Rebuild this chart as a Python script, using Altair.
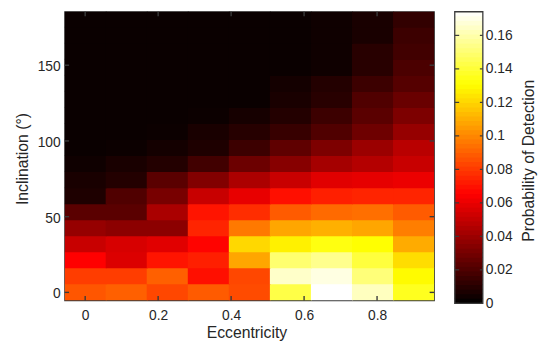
import altair as alt
import pandas as pd

# ---------------- data ----------------
eccentricity = [0.0, 0.1125, 0.225, 0.3375, 0.45, 0.5625, 0.675, 0.7875, 0.9]
inclination = [0.0, 10.59, 21.18, 31.76, 42.35, 52.94, 63.53, 74.12, 84.71,
               95.29, 105.88, 116.47, 127.06, 137.65, 148.24, 158.82, 169.41, 180.0]

prob_rows = [
    [0.0872, 0.0898, 0.0834, 0.0885, 0.0846, 0.1427, 0.1741, 0.1632, 0.1358],
    [0.0808, 0.0808, 0.0898, 0.0692, 0.0834, 0.1649, 0.1692, 0.1512, 0.1295],
    [0.0654, 0.0564, 0.0705, 0.0731, 0.1077, 0.1495, 0.1546, 0.1410, 0.1218],
    [0.0513, 0.0551, 0.0577, 0.0660, 0.1205, 0.1270, 0.1333, 0.1307, 0.1090],
    [0.0385, 0.0359, 0.0359, 0.0744, 0.0962, 0.1077, 0.1103, 0.1077, 0.0975],
    [0.0231, 0.0231, 0.0436, 0.0705, 0.0769, 0.0885, 0.0923, 0.0936, 0.0885],
    [0.0077, 0.0205, 0.0308, 0.0513, 0.0595, 0.0692, 0.0731, 0.0744, 0.0744],
    [0.0064, 0.0090, 0.0231, 0.0333, 0.0441, 0.0513, 0.0577, 0.0590, 0.0603],
    [0.0038, 0.0064, 0.0090, 0.0167, 0.0277, 0.0346, 0.0423, 0.0462, 0.0513],
    [0.0026, 0.0031, 0.0051, 0.0077, 0.0154, 0.0244, 0.0321, 0.0398, 0.0474],
    [0.0026, 0.0026, 0.0030, 0.0064, 0.0097, 0.0141, 0.0205, 0.0282, 0.0385],
    [0.0026, 0.0026, 0.0026, 0.0031, 0.0056, 0.0090, 0.0154, 0.0231, 0.0321],
    [0.0026, 0.0026, 0.0026, 0.0026, 0.0026, 0.0064, 0.0103, 0.0205, 0.0269],
    [0.0026, 0.0026, 0.0026, 0.0026, 0.0026, 0.0051, 0.0090, 0.0154, 0.0218],
    [0.0026, 0.0026, 0.0026, 0.0026, 0.0026, 0.0026, 0.0038, 0.0103, 0.0192],
    [0.0026, 0.0026, 0.0026, 0.0026, 0.0026, 0.0026, 0.0038, 0.0103, 0.0167],
    [0.0026, 0.0026, 0.0026, 0.0026, 0.0026, 0.0026, 0.0038, 0.0064, 0.0154],
    [0.0026, 0.0026, 0.0026, 0.0026, 0.0026, 0.0026, 0.0038, 0.0064, 0.0128],
]

x_ticks = [0, 0.2, 0.4, 0.6, 0.8]
y_ticks = [0, 50, 100, 150]
cbar_ticks = [0, 0.02, 0.04, 0.06, 0.08, 0.1, 0.12, 0.14, 0.16]
P_MAX = 0.1741
CBAR_STEPS = 64

cells = pd.DataFrame(
    [{"e": e, "inc": inc, "p": prob_rows[i][j]}
     for i, inc in enumerate(inclination)
     for j, e in enumerate(eccentricity)]
)
cbar_df = pd.DataFrame({
    "lo": [P_MAX * k / CBAR_STEPS for k in range(CBAR_STEPS)],
    "hi": [P_MAX * (k + 1) / CBAR_STEPS for k in range(CBAR_STEPS)],
    "mid": [P_MAX * (k + 0.5) / CBAR_STEPS for k in range(CBAR_STEPS)],
})
xt_df = pd.DataFrame({"t": x_ticks})
yt_df = pd.DataFrame({"t": y_ticks})
ct_df = pd.DataFrame({"t": cbar_ticks})

# ---------------- styling ----------------
W, H = 375, 293
FONT = "Liberation Sans"
TXT = "#262626"
AX = "#3a3a3a"
TICK = 4.5
CB_X0, CB_X1, CB_H = 396, 424.5, 296

x_scale = alt.Scale(domain=[-0.05625, 0.95625], nice=False, zero=False)
y_scale = alt.Scale(domain=[-5.2941, 185.2941], nice=False, zero=False)
cb_scale = alt.Scale(domain=[0, P_MAX], range=[CB_H, 0], nice=False, zero=False)
color_scale = alt.Scale(
    domain=[0, P_MAX * 0.375, P_MAX * 0.75, P_MAX],
    range=["#000000", "#ff0000", "#ffff00", "#ffffff"],
    interpolate="rgb",
)

x_axis = alt.Axis(values=x_ticks, format=".1~f", ticks=False, domain=False,
                  grid=False, labelPadding=8.5, titleFontSize=16,
                  titleX=184.5, titleY=25)
y_axis = alt.Axis(values=y_ticks, ticks=False, domain=False, grid=False,
                  labelPadding=4.5, labelOffset=1.5, titleFontSize=16,
                  titleX=-35, titleY=149)
cb_axis = alt.Axis(orient="right", offset=CB_X1 - W, values=cbar_ticks,
                   format=".2~f", ticks=False, domain=False, grid=False,
                   labelPadding=2.5, titleAngle=270, titleBaseline="top",
                   titleX=38, titleY=150.7, titleFontSize=16)
X_TITLE = "Eccentricity"
Y_TITLE = "Inclination (°)"
CB_TITLE = "Probability of Detection"

heat = alt.Chart(cells).transform_calculate(
    e0="datum.e - 0.05625", e1="datum.e + 0.0593",
    i0="datum.inc - 5.2941", i1="datum.inc + 6.0",
).mark_rect(clip=True).encode(
    x=alt.X("e0:Q", scale=x_scale, title=X_TITLE, axis=x_axis),
    x2="e1:Q",
    y=alt.Y("i0:Q", scale=y_scale, title=Y_TITLE, axis=y_axis),
    y2="i1:Q",
    color=alt.Color("p:Q", scale=color_scale, legend=None),
)

xt_bottom = alt.Chart(xt_df).mark_rule(color=AX, strokeWidth=1.4).encode(
    x=alt.X("t:Q", scale=x_scale, title=X_TITLE, axis=x_axis),
    y=alt.value(H), y2=alt.value(H - TICK))
xt_top = alt.Chart(xt_df).mark_rule(color=AX, strokeWidth=1.4).encode(
    x=alt.X("t:Q", scale=x_scale, title=X_TITLE, axis=x_axis),
    y=alt.value(0), y2=alt.value(TICK))
yt_left = alt.Chart(yt_df).mark_rule(color=AX, strokeWidth=1.4).encode(
    y=alt.Y("t:Q", scale=y_scale, title=Y_TITLE, axis=y_axis),
    x=alt.value(0), x2=alt.value(TICK))
yt_right = alt.Chart(yt_df).mark_rule(color=AX, strokeWidth=1.4).encode(
    y=alt.Y("t:Q", scale=y_scale, title=Y_TITLE, axis=y_axis),
    x=alt.value(W), x2=alt.value(W - TICK))

main = alt.layer(heat, xt_bottom, xt_top, yt_left, yt_right)

cbar = alt.Chart(cbar_df).transform_calculate(
    hi2="datum.hi + 0.0006"
).mark_rect().encode(
    y=alt.Y("lo:Q", scale=cb_scale, title=CB_TITLE, axis=cb_axis),
    y2="hi2:Q",
    x=alt.value(CB_X0), x2=alt.value(CB_X1),
    color=alt.Color("mid:Q", scale=color_scale, legend=None),
)
ct_left = alt.Chart(ct_df).mark_rule(color=AX, strokeWidth=1.2).encode(
    y=alt.Y("t:Q", scale=cb_scale, title=CB_TITLE, axis=cb_axis),
    x=alt.value(CB_X0), x2=alt.value(CB_X0 + 4.5))
ct_right = alt.Chart(ct_df).mark_rule(color=AX, strokeWidth=1.2).encode(
    y=alt.Y("t:Q", scale=cb_scale, title=CB_TITLE, axis=cb_axis),
    x=alt.value(CB_X1), x2=alt.value(CB_X1 - 3))
cb_frame = alt.Chart(ct_df.head(1)).mark_rect(
    fillOpacity=0, stroke=AX, strokeWidth=1.3).encode(
    x=alt.value(CB_X0), x2=alt.value(CB_X1),
    y=alt.value(0), y2=alt.value(CB_H))

cbar_layer = alt.layer(cbar, ct_left, ct_right, cb_frame)

chart = alt.layer(main, cbar_layer).resolve_scale(
    y="independent"
).properties(
    width=W, height=H,
    autosize=alt.AutoSizeParams(type="none"),
    padding={"left": 57.5, "top": 1.3, "right": 105.5, "bottom": 39.7},
    background="white",
).configure_view(
    stroke=AX, strokeWidth=1.3
).configure_axis(
    labelFont=FONT, labelFontSize=14, labelColor=TXT,
    titleFont=FONT, titleColor=TXT, titleFontWeight="normal",
)

chart.save("out.html", embed_options={"renderer": "svg", "actions": False})
